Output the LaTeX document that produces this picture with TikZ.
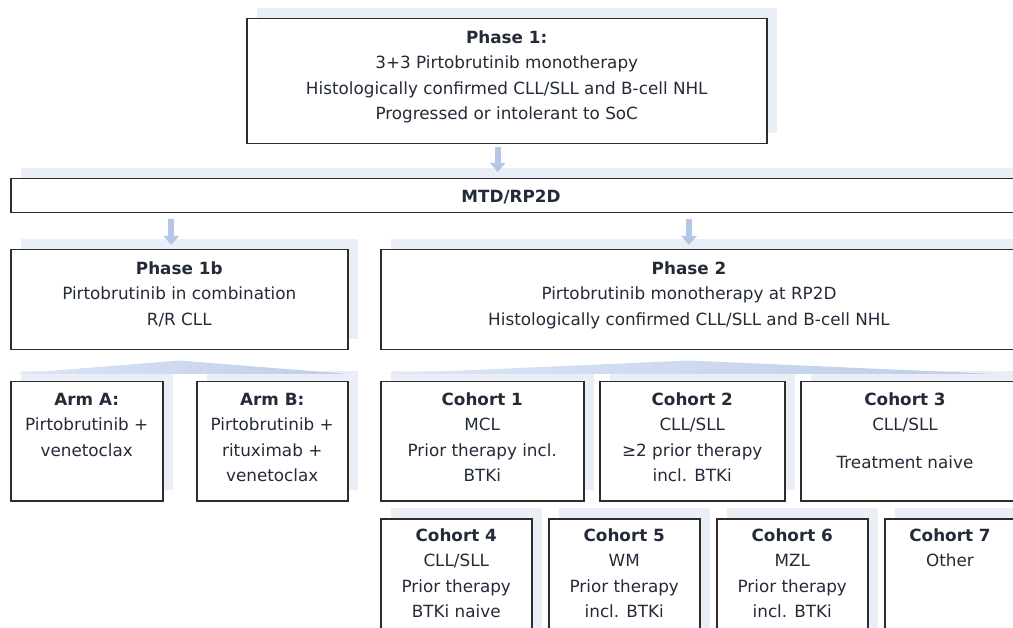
\documentclass[tikz,border=0pt]{standalone}
\usepackage{fontspec}
\setmainfont{DejaVu Sans}
\usetikzlibrary{shadows,arrows.meta,calc}
\definecolor{txt}{RGB}{36,43,56}
\definecolor{bord}{RGB}{45,45,45}
\definecolor{shad}{RGB}{233,238,247}
\definecolor{arr}{RGB}{180,199,231}
\definecolor{fanL}{RGB}{220,229,245}
\definecolor{fanM}{RGB}{172,192,228}
\definecolor{fanR}{RGB}{188,205,235}
\begin{document}
\begin{tikzpicture}[x=1pt,y=-1pt,
  box/.style={draw=bord,line width=1.5pt,fill=white,anchor=north west,inner sep=0pt,
    general shadow={fill=shad,shadow xshift=10pt,shadow yshift=11pt}},
  lbl/.style={anchor=north,inner sep=0pt,align=center,text=txt,font=\fontsize{16.8}{25.5}\selectfont},
  bigarrow/.style={draw=arr,line width=6pt,-{Triangle[width=15pt,length=9pt]}}]
\useasboundingbox (0,0) rectangle (1013,628);
\clip (0,0) rectangle (1013,628);
% boxes
\node[box,minimum width=520pt,minimum height=125pt] (p1) at (246,18) {};
\node[box,minimum width=1030pt,minimum height=34pt] (mtd) at (10,178) {};
\node[box,minimum width=337pt,minimum height=100pt] (p1b) at (10,249) {};
\node[box,minimum width=660pt,minimum height=100pt] (p2) at (380,249) {};
\node[box,minimum width=152pt,minimum height=119pt] (arma) at (10,381) {};
\node[box,minimum width=151pt,minimum height=119pt] (armb) at (196,381) {};
\node[box,minimum width=203pt,minimum height=119pt] (c1) at (380,381) {};
\node[box,minimum width=185pt,minimum height=119pt] (c2) at (599,381) {};
\node[box,minimum width=260pt,minimum height=119pt] (c3) at (800,381) {};
\node[box,minimum width=151pt,minimum height=130pt] (c4) at (380,518) {};
\node[box,minimum width=151pt,minimum height=130pt] (c5) at (548,518) {};
\node[box,minimum width=151pt,minimum height=130pt] (c6) at (716,518) {};
\node[box,minimum width=151pt,minimum height=130pt] (c7) at (884,518) {};
% fans
\shade[left color=fanL,middle color=fanM,right color=fanR]
  ([xshift=2pt,yshift=7pt]arma.north west) -- ([yshift=-10pt]p1b.south) -- ([yshift=7pt]armb.north east) -- cycle;
\coordinate (p2top) at ($(p2.north west)+(309,0)$);
\coordinate (p2apex) at ($(p2.south west)+(309,10)$);
\coordinate (p2fanR) at ($(c3.north west)+(195,-7)$);
\shade[left color=fanL,middle color=fanM,right color=fanR]
  ([xshift=3pt,yshift=7pt]c1.north west) -- (p2apex) -- (p2fanR) -- cycle;
% arrows
\draw[bigarrow,shorten <=3pt,shorten >=6pt] ([xshift=-9pt]p1.south) -- ([xshift=-9pt]p1.south |- mtd.north);
\draw[bigarrow,shorten <=6pt,shorten >=4pt] ([xshift=-8pt]p1b.north |- mtd.south) -- ([xshift=-8pt]p1b.north);
\draw[bigarrow,shorten <=6pt,shorten >=4pt] (p2top |- mtd.south) -- (p2top);
% texts
\node[lbl] (p1t) at ($(p1.north)+(0,7)$) {\strut\textbf{Phase 1:}\\3+3 Pirtobrutinib monotherapy\\Histologically confirmed CLL/SLL and B-cell NHL\\Progressed or intolerant to SoC};
\node[lbl,anchor=center] (mtdt) at ($(mtd.west)+(501,1)$) {\textbf{MTD/RP2D}};
\node[lbl] (p1bt) at ($(p1b.north)+(0,7)$) {\strut\textbf{Phase 1b}\\Pirtobrutinib in combination\\R/R CLL};
\node[lbl] (p2t) at ($(p2top)+(0,7)$) {\strut\textbf{Phase 2}\\Pirtobrutinib monotherapy at RP2D\\Histologically confirmed CLL/SLL and B-cell NHL};
\node[lbl] (armat) at ($(arma.north)+(0,6)$) {\strut\textbf{Arm A:}\\Pirtobrutinib +\\venetoclax};
\node[lbl] (armbt) at ($(armb.north)+(0,6)$) {\strut\textbf{Arm B:}\\Pirtobrutinib +\\rituximab +\\venetoclax};
\node[lbl] (c1t) at ($(c1.north)+(0,6)$) {\strut\textbf{Cohort 1}\\MCL\\Prior therapy incl.\\BTKi};
\node[lbl] (c2t) at ($(c2.north)+(0,6)$) {\strut\textbf{Cohort 2}\\CLL/SLL\\≥2 prior therapy\\incl. BTKi};
\node[lbl] (c3t) at ($(c3.north west)+(105,6)$) {\strut\textbf{Cohort 3}\\CLL/SLL\\[12.5pt]Treatment naive};
\node[lbl] (c4t) at ($(c4.north)+(0,5)$) {\strut\textbf{Cohort 4}\\CLL/SLL\\Prior therapy\\BTKi naive};
\node[lbl] (c5t) at ($(c5.north)+(0,5)$) {\strut\textbf{Cohort 5}\\WM\\Prior therapy\\incl. BTKi};
\node[lbl] (c6t) at ($(c6.north)+(0,5)$) {\strut\textbf{Cohort 6}\\MZL\\Prior therapy\\incl. BTKi};
\node[lbl] (c7t) at ($(c7.north west)+(66,5)$) {\strut\textbf{Cohort 7}\\Other};
\end{tikzpicture}
\end{document}
